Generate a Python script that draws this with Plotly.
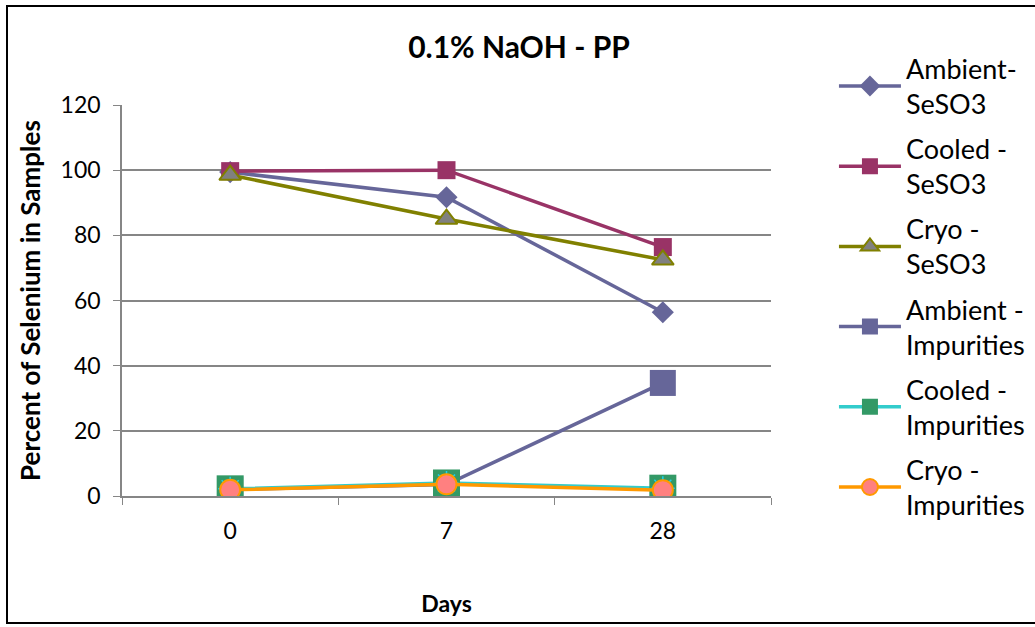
import plotly.graph_objects as go

days = ["0", "7", "28"]
ambient_seso3 = [99.4, 91.7, 56.4]
cooled_seso3 = [99.7, 100.0, 76.4]
cryo_seso3 = [98.5, 85.0, 72.5]
ambient_imp = [2.0, 3.5, 34.7]
cooled_imp = [2.2, 4.0, 2.4]
cryo_imp = [1.9, 3.6, 1.8]

FONT = "Lato"
fig = go.Figure()

def add(name, y, lcolor, symbol, size, fill, mline=None, mlw=0):
    fig.add_trace(go.Scatter(
        x=days, y=y, name=name, mode="lines+markers",
        line=dict(color=lcolor, width=3.5),
        marker=dict(symbol=symbol, size=size, color=fill,
                    line=dict(color=mline or fill, width=mlw)),
        legendgroup=name,
    ))

add("Ambient-<br>SeSO3", ambient_seso3, "#666699", "diamond", 17, "#666699")
add("Cooled -<br>SeSO3", cooled_seso3, "#993366", "square", 18, "#993366")
add("Cryo -<br>SeSO3", cryo_seso3, "#808000", "triangle-up", 19, "#808080", "#808000", 2)
add("Ambient -<br>Impurities", ambient_imp, "#666699", "square", 26, "#666699")
add("Cooled -<br>Impurities", cooled_imp, "#33CCCC", "square", 27, "#339966")
fig.add_trace(go.Scatter(x=days, y=cooled_imp, mode="markers", showlegend=False,
                         marker=dict(symbol="asterisk-open", size=20,
                                     line=dict(color="#33CCCC", width=1.5))))
add("Cryo -<br>Impurities", cryo_imp, "#FF9900", "circle", 20, "#FF8080", "#FF9900", 2)

fig.update_layout(
    width=1035, height=627,
    margin=dict(l=122, r=264, t=105, b=131, autoexpand=False),
    paper_bgcolor="white", plot_bgcolor="white",
    font=dict(family=FONT, size=23, color="black"),
    title=dict(text="<b>0.1% NaOH - PP</b>", x=519 / 1035, xanchor="center",
               y=1 - 47 / 627, yanchor="middle", font=dict(size=30)),
    legend=dict(x=1.097, y=1.155, xanchor="left", yanchor="top",
                traceorder="grouped", tracegroupgap=7, maxheight=600,
                font=dict(size=27), itemwidth=62, bgcolor="rgba(0,0,0,0)"),
    showlegend=True,
)
fig.update_xaxes(type="category", range=[-0.5, 2.5], showgrid=False,
                 showline=True, linecolor="#868686", linewidth=1.5,
                 ticks="outside", tickson="boundaries", ticklen=7,
                 tickcolor="#868686", ticklabelstandoff=14,
                 title=dict(text="<b>Days</b>", standoff=53, font=dict(size=23)),
                 zeroline=False)
fig.update_yaxes(range=[0, 120], dtick=20, showgrid=True, gridcolor="#868686",
                 gridwidth=1.5, showline=True, linecolor="#868686", linewidth=1.5,
                 ticks="outside", ticklen=7, tickcolor="#868686",
                 ticklabelstandoff=8, zeroline=False,
                 title=dict(text="<b>Percent of Selenium in Samples</b>",
                            standoff=13, font=dict(size=26)))

# chart border (top, left, bottom; right edge is cut off in the reference)
x_left = (7 - 122) / 649
x_right = (1040 - 122) / 649
y_top = (496 - 6) / 391
y_bot = (496 - 623) / 391
fig.add_shape(type="path", xref="paper", yref="paper",
              path=f"M {x_right},{y_top} L {x_left},{y_top} L {x_left},{y_bot} L {x_right},{y_bot}",
              line=dict(color="black", width=2))

fig.write_html("out.html")
